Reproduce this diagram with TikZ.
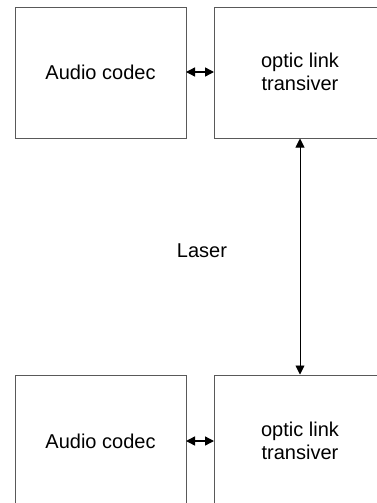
\documentclass[tikz,border=0pt]{standalone}
\usepackage{fontspec}
\setmainfont{Liberation Sans}
\usetikzlibrary{arrows.meta}
\begin{document}
\begin{tikzpicture}[x=1pt,y=-1pt,
  blockbox/.style={draw=black!65, line width=0.9pt},
  lbl/.style={font=\fontsize{20}{23}\selectfont, align=center, inner sep=0pt},
  head/.style={Triangle[length=9pt,width=9pt]},
  link/.style={line width=0.9pt, {Triangle[length=9pt,width=9pt]}-{Triangle[length=9pt,width=9pt]}}]
  \useasboundingbox (0,0) rectangle (377,503);
  \begin{scope}
    \clip (0,0) rectangle (377,503);
    % upper pair of blocks
    \draw[blockbox] (15,7) rectangle (186,138);
    \draw[blockbox] (214,7) rectangle (386,138);
    % lower pair of blocks
    \draw[blockbox] (15,375) rectangle (186,520);
    \draw[blockbox] (214,375) rectangle (386,520);
  \end{scope}
  \node[lbl] (codecA) at (100.5,72) {Audio codec};
  \node[lbl] (optA) at (300,72) {optic link\\transiver};
  \node[lbl] (codecB) at (100.5,441) {Audio codec};
  \node[lbl] (optB) at (300,441) {optic link\\transiver};
  \node[lbl] (laser) at (202,251) {Laser};
  \coordinate (c1r) at (186,72);
  \coordinate (o1l) at (214,72);
  \coordinate (c2r) at (186,441);
  \coordinate (o2l) at (214,441);
  \coordinate (o1b) at (300,138.5);
  \coordinate (o2t) at (300,374.5);
  \draw[link, line width=1.4pt] (c1r) -- (o1l);
  \draw[link, line width=1.4pt] (c2r) -- (o2l);
  \draw[link] (o1b) -- (o2t);
\end{tikzpicture}
\end{document}
